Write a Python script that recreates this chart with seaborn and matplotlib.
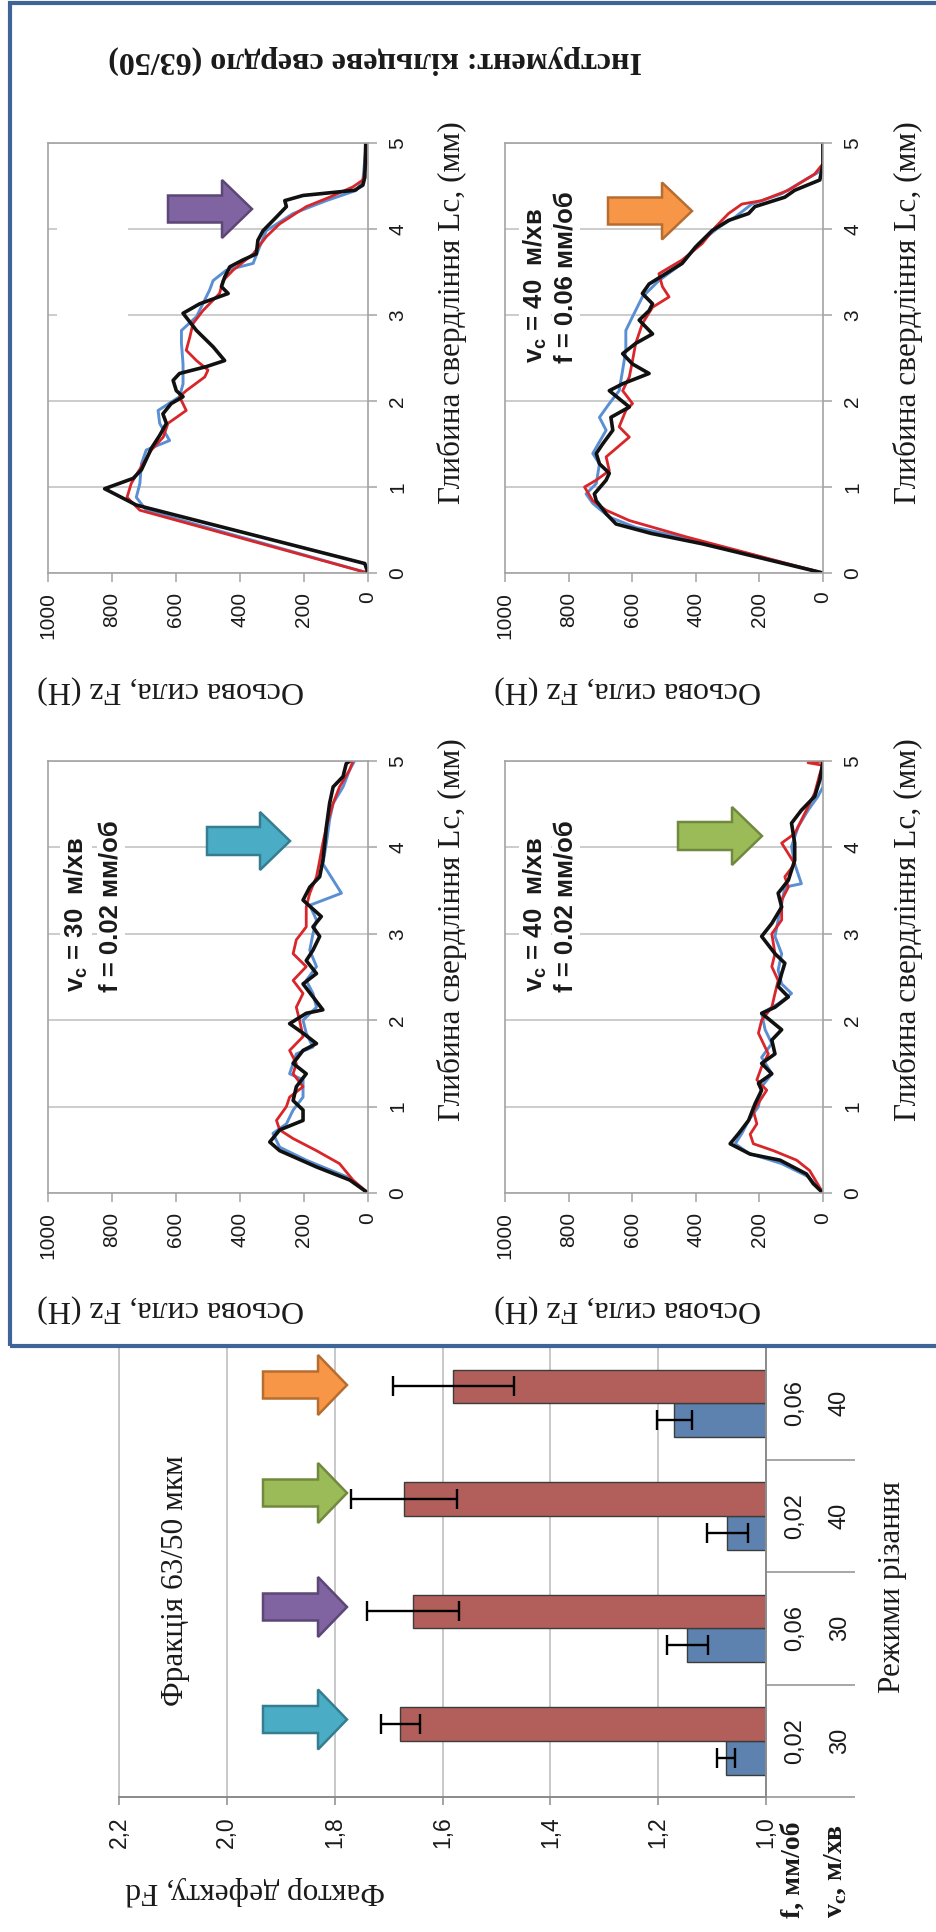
import numpy as np
import pandas as pd
import matplotlib
matplotlib.use('Agg')
import matplotlib.pyplot as plt
import seaborn as sns
from matplotlib.patches import Polygon, Rectangle
from matplotlib.transforms import blended_transform_factory

# ---------------- data: force curves (depth mm, force N) ----------------
# panel vc=30, f=0.06 (purple arrow)
tl_black_d = [0, 0.11, 0.79, 0.98, 1.10, 1.20, 1.32, 1.45, 1.60, 1.74, 1.85, 1.97, 2.05, 2.12, 2.24, 2.32, 2.40, 2.47, 2.63, 2.82, 3.02, 3.13, 3.25, 3.33, 3.44, 3.56, 3.64, 3.71, 3.87, 3.98, 4.14, 4.26, 4.33, 4.39, 4.45, 4.51, 4.60, 5.0]
tl_black_f = [0, 10, 724, 823, 734, 708, 693, 677, 651, 630, 641, 615, 578, 599, 609, 589, 505, 448, 484, 536, 578, 526, 437, 458, 448, 432, 391, 349, 344, 328, 286, 255, 260, 203, 42, 16, 10, 7]
tl_red_d = [0, 0.73, 0.88, 1.04, 1.27, 1.43, 1.58, 1.74, 1.89, 2.05, 2.12, 2.28, 2.36, 2.47, 2.59, 2.74, 2.90, 3.05, 3.25, 3.40, 3.52, 3.71, 3.91, 4.06, 4.26, 4.37, 4.49, 4.57, 4.76, 5.0]
tl_red_f = [0, 713, 753, 740, 703, 677, 640, 625, 568, 589, 568, 510, 500, 536, 568, 557, 547, 516, 464, 453, 422, 359, 318, 276, 193, 120, 47, 16, 5, 5]
tl_blue_d = [0, 0.73, 0.88, 1.04, 1.27, 1.43, 1.54, 1.74, 1.89, 2.05, 2.20, 2.43, 2.67, 2.82, 2.98, 3.29, 3.40, 3.52, 3.60, 3.79, 3.98, 4.18, 4.33, 4.45, 4.57, 5.0]
tl_blue_f = [0, 693, 724, 713, 708, 693, 620, 651, 656, 589, 578, 578, 583, 583, 536, 495, 484, 443, 359, 339, 318, 234, 130, 36, 16, 5]

# panel vc=40, f=0.06 (orange arrow)
tr_black_d = [0, 0.34, 0.46, 0.57, 0.69, 0.84, 0.92, 1.08, 1.16, 1.27, 1.39, 1.50, 1.66, 1.81, 1.93, 2.12, 2.20, 2.32, 2.43, 2.55, 2.67, 2.78, 2.94, 3.05, 3.13, 3.25, 3.36, 3.48, 3.60, 3.79, 3.98, 4.10, 4.18, 4.26, 4.37, 4.45, 4.57, 4.76, 5.0]
tr_black_f = [0, 380, 540, 651, 682, 713, 719, 682, 672, 703, 713, 693, 661, 667, 609, 672, 630, 547, 599, 630, 589, 536, 578, 547, 536, 568, 547, 495, 443, 401, 349, 297, 234, 214, 120, 89, 10, 0, 0]
tr_red_d = [0, 0.42, 0.61, 0.73, 0.84, 1.0, 1.08, 1.19, 1.35, 1.58, 1.70, 1.89, 1.97, 2.12, 2.28, 2.47, 2.67, 2.90, 3.09, 3.21, 3.33, 3.48, 3.64, 3.83, 4.02, 4.18, 4.29, 4.33, 4.45, 4.64, 4.76, 5.0]
tr_red_f = [0, 430, 609, 682, 724, 750, 713, 672, 682, 609, 641, 620, 599, 630, 609, 599, 589, 568, 536, 484, 505, 516, 443, 380, 339, 297, 255, 193, 109, 26, 0, 0]
tr_blue_d = [0, 0.38, 0.53, 0.65, 0.81, 0.92, 1.04, 1.27, 1.39, 1.66, 1.81, 1.97, 2.12, 2.36, 2.59, 2.82, 2.98, 3.21, 3.40, 3.60, 3.83, 4.02, 4.14, 4.29, 4.41, 4.57, 4.69, 5.0]
tr_blue_f = [0, 400, 589, 672, 724, 745, 713, 703, 724, 682, 703, 672, 641, 630, 620, 620, 599, 568, 516, 443, 391, 328, 276, 224, 130, 57, 0, 0]

# panel vc=30, f=0.02 (cyan arrow)
bl_black_d = [0, 0.15, 0.30, 0.49, 0.59, 0.73, 0.84, 0.96, 1.07, 1.23, 1.38, 1.50, 1.65, 1.73, 1.85, 1.96, 2.08, 2.12, 2.27, 2.42, 2.54, 2.69, 2.81, 2.97, 3.08, 3.20, 3.39, 3.54, 3.66, 3.85, 4.05, 4.24, 4.51, 4.70, 4.82, 4.97, 5.0]
bl_black_f = [0, 57, 160, 276, 307, 276, 203, 203, 234, 224, 193, 234, 203, 161, 203, 245, 193, 141, 172, 203, 161, 193, 172, 151, 172, 146, 203, 182, 151, 141, 135, 130, 120, 109, 78, 68, 57]
bl_red_d = [0, 0.15, 0.34, 0.49, 0.63, 0.73, 0.84, 1.0, 1.11, 1.23, 1.38, 1.50, 1.65, 1.81, 2.0, 2.15, 2.31, 2.46, 2.62, 2.77, 2.93, 3.08, 3.31, 3.47, 3.66, 3.85, 4.05, 4.24, 4.51, 4.70, 4.90, 5.0]
bl_red_f = [0, 47, 89, 161, 234, 276, 286, 255, 245, 203, 234, 224, 245, 203, 214, 224, 203, 234, 193, 234, 224, 193, 193, 182, 161, 151, 141, 130, 109, 89, 57, 47]
bl_blue_d = [0, 0.19, 0.38, 0.53, 0.69, 0.80, 0.96, 1.11, 1.31, 1.38, 1.61, 1.69, 1.85, 2.0, 2.15, 2.31, 2.46, 2.62, 2.81, 3.0, 3.16, 3.33, 3.47, 3.81, 4.05, 4.32, 4.51, 4.70, 4.90, 5.0]
bl_blue_f = [0, 68, 193, 276, 297, 255, 234, 203, 203, 245, 224, 172, 193, 203, 161, 172, 193, 161, 182, 172, 161, 182, 83, 141, 130, 120, 109, 78, 57, 42]

# panel vc=40, f=0.02 (green arrow)
br_black_d = [0, 0.11, 0.22, 0.38, 0.45, 0.57, 0.69, 0.84, 1.03, 1.19, 1.27, 1.38, 1.50, 1.61, 1.77, 1.89, 2.08, 2.15, 2.27, 2.39, 2.54, 2.66, 2.77, 2.97, 3.12, 3.31, 3.47, 3.62, 3.85, 4.05, 4.28, 4.43, 4.59, 4.78, 5.0]
br_black_f = [0, 31, 52, 135, 229, 292, 265, 234, 214, 193, 203, 161, 193, 151, 161, 130, 193, 151, 109, 141, 130, 120, 151, 193, 161, 130, 141, 109, 89, 89, 99, 68, 26, 10, 0]
br_red_d = [0, 0.26, 0.38, 0.49, 0.57, 0.68, 0.80, 0.95, 1.07, 1.19, 1.31, 1.46, 1.61, 1.85, 2.0, 2.15, 2.31, 2.46, 2.62, 2.77, 3.0, 3.16, 3.39, 3.54, 3.66, 3.81, 4.05, 4.16, 4.47, 4.63, 4.85, 4.95, 4.98, 5.0]
br_red_f = [0, 42, 83, 156, 219, 229, 208, 219, 198, 177, 208, 193, 172, 203, 193, 161, 151, 141, 161, 151, 161, 130, 130, 109, 120, 89, 130, 89, 47, 26, 10, 0, 47, 0]
br_blue_d = [0, 0.19, 0.34, 0.46, 0.57, 0.69, 0.84, 1.0, 1.23, 1.38, 1.57, 1.73, 1.89, 2.08, 2.19, 2.31, 2.42, 2.58, 2.77, 2.97, 3.16, 3.35, 3.54, 3.58, 3.81, 4.01, 4.24, 4.43, 4.59, 4.70, 5.0]
br_blue_f = [0, 47, 130, 234, 276, 255, 234, 203, 193, 161, 193, 161, 182, 193, 141, 99, 130, 141, 130, 151, 141, 130, 120, 68, 89, 99, 78, 47, 16, 0, 0]

force_ticks = [0, 200, 400, 600, 800, 1000]
force_tick_labels = ['0', '200', '400', '600', '800', '1000']
depth_ticks = [0, 1, 2, 3, 4, 5]
depth_tick_labels = ['0', '1', '2', '3', '4', '5']

# ---------------- data: defect factor bars ----------------
feed_labels = ['0,02', '0,06', '0,02', '0,06']
speed_labels = ['30', '30', '40', '40']
blue_fd = [1.074, 1.146, 1.072, 1.170]
blue_err = [0.017, 0.038, 0.038, 0.033]
red_fd = [1.678, 1.655, 1.672, 1.580]
red_err = [0.036, 0.085, 0.098, 0.112]
fd_ticks = [1.0, 1.2, 1.4, 1.6, 1.8, 2.0, 2.2]
fd_tick_labels = ['1,0', '1,2', '1,4', '1,6', '1,8', '2,0', '2,2']

# ---------------- style ----------------
sns.set_style('white')
plt.rcParams['font.family'] = ['Liberation Sans', 'DejaVu Sans']
plt.rcParams['mathtext.fontset'] = 'custom'
plt.rcParams['mathtext.rm'] = 'Liberation Sans'
SERIF = ['Liberation Serif', 'DejaVu Serif']

W, H = 937, 1932
fig = plt.figure(figsize=(W / 100, H / 100), dpi=100)
fig.patch.set_facecolor('white')

C_RED = '#d8262a'
C_BLUE = '#5a8fd4'
C_BLACK = '#111111'
GRID = '#c4c4c4'
SPINE = '#a3a3a3'
TXT = '#1a1a1a'


def fxy(x, y):
    return x / W, 1 - y / H


def add_axes_px(x0, y0, x1, y1):
    return fig.add_axes([x0 / W, 1 - y1 / H, (x1 - x0) / W, (y1 - y0) / H])


def ftext(x, y, s, **kw):
    fig.text(x / W, 1 - y / H, s, **kw)


def block_arrow(x0, x1, yc, body, head, head_len, fc, ec):
    xh = x1 - head_len
    pts = [(x0, yc - body / 2), (xh, yc - body / 2), (xh, yc - head / 2), (x1, yc),
           (xh, yc + head / 2), (xh, yc + body / 2), (x0, yc + body / 2)]
    poly = Polygon([fxy(px, py) for px, py in pts], closed=True, transform=fig.transFigure,
                   facecolor=fc, edgecolor=ec, linewidth=1.8, zorder=5)
    fig.add_artist(poly)


def force_panel(box, curves):
    ax = add_axes_px(*box)
    for d, f, col, lw in curves:
        sns.lineplot(x=f, y=d, sort=False, estimator=None, color=col, linewidth=lw, ax=ax)
    ax.set_xlim(1000, 0)
    ax.set_ylim(0, 5)
    ax.set_xticks(force_ticks)
    ax.set_xticklabels(force_tick_labels, rotation=90, va='top', ha='center')
    ax.yaxis.tick_right()
    ax.set_yticks(depth_ticks)
    ax.set_yticklabels(depth_tick_labels, rotation=90, va='center', ha='left')
    ax.tick_params(axis='x', direction='out', length=6.5, width=1.1, color=SPINE, pad=7,
                   labelsize=15, labelcolor=TXT, bottom=True)
    ax.tick_params(axis='y', direction='out', length=6.5, width=1.1, color=SPINE, pad=8,
                   labelsize=15, labelcolor=TXT, right=True, left=False)
    ax.grid(axis='y', color=GRID, linewidth=1.2)
    ax.grid(axis='x', visible=False)
    ax.set_axisbelow(True)
    for s in ax.spines.values():
        s.set_color(SPINE)
        s.set_linewidth(1.2)
    ax.set_xlabel('')
    ax.set_ylabel('')
    return ax


def curves(bd, bf, rd, rf, kd, kf):
    return [(bd, bf, C_BLUE, 2.1), (rd, rf, C_RED, 2.0), (kd, kf, C_BLACK, 2.6)]


ax_tl = force_panel((48, 143, 368, 573), curves(tl_blue_d, tl_blue_f, tl_red_d, tl_red_f, tl_black_d, tl_black_f))
ax_tr = force_panel((505, 143, 823, 573), curves(tr_blue_d, tr_blue_f, tr_red_d, tr_red_f, tr_black_d, tr_black_f))
ax_bl = force_panel((48, 761, 368, 1193), curves(bl_blue_d, bl_blue_f, bl_red_d, bl_red_f, bl_black_d, bl_black_f))
ax_br = force_panel((505, 761, 823, 1193), curves(br_blue_d, br_blue_f, br_red_d, br_red_f, br_black_d, br_black_f))

# empty white text box in first panel (hides grid like the other boxes)
x0, y0 = fxy(57, 363)
x1, y1 = fxy(128, 180)
ax_tl.add_patch(Rectangle((x0, y0), x1 - x0, y1 - y0, transform=fig.transFigure,
                          facecolor='white', edgecolor='none', zorder=1))

# annotations inside panels
ANN = dict(rotation=90, ha='center', va='bottom', fontsize=18.5, fontweight='bold', color=TXT,
           bbox=dict(facecolor='white', edgecolor='none', pad=1.5), zorder=3)
for ax, (xa, xb, yb), v, f in [(ax_tr, (535, 566, 363), '40', '0.06'),
                               (ax_bl, (76, 111, 992), '30', '0.02'),
                               (ax_br, (535, 566, 992), '40', '0.02')]:
    ax.text(*fxy(xa, yb), r'v$_\mathregular{c}$ = ' + v + '  м/хв', transform=fig.transFigure, **ANN)
    ax.text(*fxy(xb, yb), 'f = ' + f + ' мм/об', transform=fig.transFigure, **ANN)

# axis titles for force panels
depth_title = 'Глибина свердління Lc, (мм)'
force_title = 'Осьова сила, Fz (Н)'
for xd, yd in [(452, 313), (908, 313), (452, 930), (908, 930)]:
    ftext(xd, yd, depth_title, rotation=90, ha='center', va='center', fontsize=22.5,
          family=SERIF, color=TXT)
for xf, yf in [(171, 690), (628, 690), (171, 1309), (628, 1309)]:
    ftext(xf, yf, force_title, rotation=180, ha='center', va='center', fontsize=23,
          family=SERIF, color=TXT)

ftext(375, 60, 'Інструмент: кільцеве свердло (63/50)', rotation=180, ha='center', va='center',
      fontsize=23, fontweight='bold', family=SERIF, color=TXT)

# arrows in force panels
block_arrow(168, 252, 209, 27, 58, 30, '#8064a2', '#5c4776')
block_arrow(608, 692, 211, 27, 57, 30, '#f79646', '#b66d31')
block_arrow(207, 290, 841, 28, 58, 30, '#4bacc6', '#357d91')
block_arrow(678, 762, 836, 28, 58, 30, '#9bbb59', '#71893f')

# blue frame around the force panels
fx0, fy0 = fxy(10, 1346)
fx1, fy1 = fxy(950, 2.5)
fig.add_artist(Rectangle((fx0, fy0), fx1 - fx0, fy1 - fy0, transform=fig.transFigure,
                         fill=False, edgecolor='#3f6598', linewidth=3.0, zorder=6))

# ---------------- bar chart ----------------
cats = [a + '|' + b for a, b in zip(feed_labels, speed_labels)]
df = pd.DataFrame({'cat': cats * 2,
                   'Fd': blue_fd + red_fd,
                   'series': ['s1'] * 4 + ['s2'] * 4})
axb = add_axes_px(119, 1347, 766, 1797)
sns.barplot(data=df, x='Fd', y='cat', hue='series', order=cats, hue_order=['s1', 's2'],
            orient='h', palette=['#4f81bd', '#c0504d'], width=0.6, errorbar=None,
            edgecolor='#3c3c3c', linewidth=1.0, legend=False, ax=axb)
axb.set_xlim(2.2, 1.0)
axb.set_ylim(-0.5, len(cats) - 0.5)

for vals, errs in [(blue_fd, blue_err), (red_fd, red_err)]:
    for v, e in zip(vals, errs):
        for p in axb.patches:
            if abs(p.get_width() - v) < 1e-9:
                yc = p.get_y() + p.get_height() / 2
                axb.errorbar(v, yc, xerr=e, fmt='none', ecolor='black', elinewidth=1.7,
                             capsize=7, capthick=1.7, zorder=4)

axb.set_xticks(fd_ticks)
axb.set_xticklabels(fd_tick_labels, rotation=90, va='top', ha='center')
axb.tick_params(axis='x', direction='out', length=6, width=1.1, color='#8a8a8a', pad=8,
                labelsize=16.5, labelcolor=TXT, bottom=True)
axb.set_yticks([])
axb.yaxis.tick_right()
axb.set_yticks(np.arange(len(cats) + 1) - 0.5, minor=True)
axb.tick_params(axis='y', which='minor', direction='out', length=64, width=1.4,
                color='#a6a6a6', right=True, left=False)
axb.grid(axis='x', color=GRID, linewidth=1.3)
axb.set_axisbelow(True)
axb.spines['top'].set_visible(False)
axb.spines['left'].set_color(GRID)
axb.spines['left'].set_linewidth(1.3)
axb.spines['right'].set_color('#8a8a8a')
axb.spines['bottom'].set_color('#8a8a8a')
axb.spines['right'].set_linewidth(1.4)
axb.spines['bottom'].set_linewidth(1.4)
axb.set_xlabel('')
axb.set_ylabel('')

# category labels (two levels)
tr_b = blended_transform_factory(fig.transFigure, axb.transData)
for i, (fl, sl) in enumerate(zip(feed_labels, speed_labels)):
    axb.text(795 / W, i, fl, transform=tr_b, rotation=90, ha='center', va='center',
             fontsize=17, color=TXT, clip_on=False)
    axb.text(840 / W, i, sl, transform=tr_b, rotation=90, ha='center', va='center',
             fontsize=17, color=TXT, clip_on=False)

ftext(793, 1918, 'f, мм/об', rotation=90, ha='center', va='bottom', fontsize=20,
      fontweight='bold', family=SERIF, color=TXT)
ftext(836, 1918, r'v$_\mathregular{c}$, м/хв', rotation=90, ha='center', va='bottom', fontsize=20,
      fontweight='bold', family=SERIF, color=TXT)
ftext(893, 1587, 'Режими різання', rotation=90, ha='center', va='center', fontsize=22.5,
      family=SERIF, color=TXT)
ftext(175, 1581, 'Фракція 63/50 мкм', rotation=90, ha='center', va='center', fontsize=22.5,
      family=SERIF, color=TXT)
ftext(255, 1891, 'Фактор дефекту, Fd', rotation=180, ha='center', va='center', fontsize=22.5,
      family=SERIF, color=TXT)

# arrows pointing at red bars
for yc, fc, ec in [(1385, '#f79646', '#b66d31'), (1493, '#9bbb59', '#71893f'),
                   (1607, '#8064a2', '#5c4776'), (1719.5, '#4bacc6', '#357d91')]:
    block_arrow(263, 347, yc, 27, 60, 29, fc, ec)

fig.savefig('out.png', dpi=100, facecolor='white')
